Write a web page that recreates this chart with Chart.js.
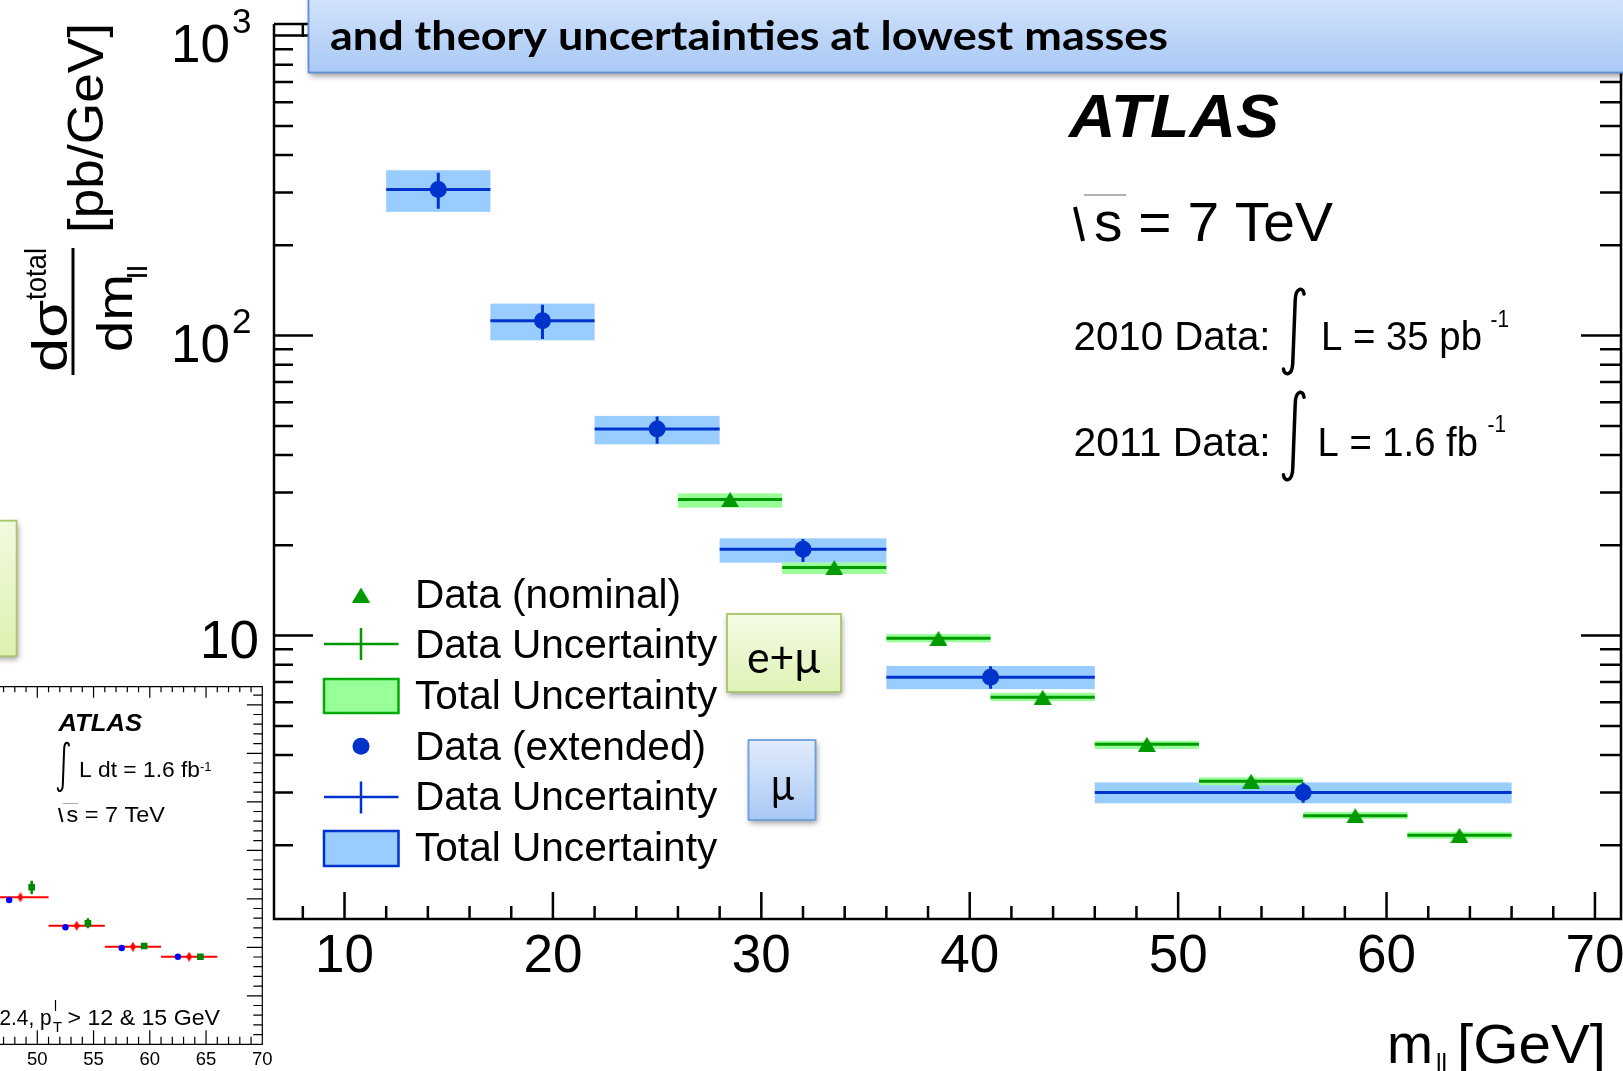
<!DOCTYPE html>
<html>
<head>
<meta charset="utf-8">
<script src="https://cdn.jsdelivr.net/npm/chart.js@4.4.1/dist/chart.umd.min.js"></script>
<style>
  html, body { margin: 0; padding: 0; background: #fff; overflow: hidden; }
  #wrap { position: relative; width: 1623px; height: 1071px; overflow: hidden; background: #fff; }
  #main { position: absolute; left: 0; top: 0; }
  #inset { position: absolute; left: -200px; top: 670px; }
</style>
</head>
<body>
<div id="wrap">
  <canvas id="main" width="1623" height="1071"></canvas>
  <canvas id="inset" width="480" height="401"></canvas>
</div>
<script>
// e+mu combined (nominal) bins, pb/GeV
const emuLow = [26, 31, 36, 41, 46, 51, 56, 61];
const emuHigh = [31, 36, 41, 46, 51, 56, 61, 66];
const emuValue = [28.4, 16.85, 9.79, 6.23, 4.34, 3.27, 2.51, 2.16];
const emuStat = [0.25, 0.15, 0.09, 0.06, 0.04, 0.03, 0.025, 0.02];
const emuTotLow = [26.7, 16.05, 9.50, 6.05, 4.19, 3.17, 2.45, 2.10];
const emuTotHigh = [29.8, 17.5, 10.12, 6.45, 4.46, 3.37, 2.585, 2.22];

// muon only (extended) bins
const muLow = [12, 17, 22, 28, 36, 46];
const muHigh = [17, 22, 28, 36, 46, 66];
const muValue = [306.8, 112.1, 48.8, 19.41, 7.26, 3.0];
const muDataLow = [264.5, 97.4, 43.6, 17.6, 6.65, 2.77];
const muDataHigh = [348.8, 126.8, 53.7, 21.0, 7.9, 3.23];
const muTotLow = [258.5, 96.4, 43.4, 17.5, 6.63, 2.76];
const muTotHigh = [355.8, 127.8, 54.0, 21.1, 7.92, 3.24];

const xTicks = [10, 20, 30, 40, 50, 60, 70];
const yTicks = [10, 100, 1000];

// small fiducial plot on the left
const insetLow = [46, 51, 56, 61];
const insetHigh = [51, 56, 61, 66];
const insetBlue = [2.975, 2.412, 1.986, 1.806];
const insetRed = [3.031, 2.445, 2.012, 1.806];
const insetGreen = [3.237, 2.495, 2.027, 1.806];
const insetGreenErr = [0.137, 0.103, 0.06, 0.03];
const insetTicks = [50, 55, 60, 65, 70];

const HELV = "'Liberation Sans', Arial, sans-serif";
const CALI = "Lato, 'Open Sans', sans-serif";

const BLUE = '#0033cc', BLUE_BAND = '#99ccff';
const GREEN = '#009900', GREEN_BAND = '#99ff99';

function markerCanvas(w, h, color, shape) {
  const c = document.createElement('canvas');
  c.width = w; c.height = h;
  const g = c.getContext('2d');
  g.fillStyle = color;
  g.beginPath();
  if (shape === 'tri') {
    g.moveTo(w / 2, 0); g.lineTo(w, h); g.lineTo(0, h);
  } else {
    g.moveTo(w / 2, 0); g.lineTo(w, h / 2); g.lineTo(w / 2, h); g.lineTo(0, h / 2);
  }
  g.closePath();
  g.fill();
  return c;
}
const triMarker = markerCanvas(18, 15, GREEN, 'tri');
const diamondMarker = markerCanvas(6, 10, '#ff0000', 'dia');

// text squeezed/stretched to a given width
function fitText(ctx, str, x, y, font, width) {
  ctx.font = font;
  const w = ctx.measureText(str).width;
  ctx.save();
  ctx.translate(x, y);
  if (width) ctx.scale(width / w, 1);
  ctx.textAlign = 'left';
  ctx.textBaseline = 'alphabetic';
  ctx.fillText(str, 0, 0);
  ctx.restore();
}

// text running bottom-to-top
function rotText(ctx, str, xBase, yStart, font, len) {
  ctx.save();
  ctx.translate(xBase, yStart);
  ctx.rotate(-Math.PI / 2);
  ctx.font = font;
  const w = ctx.measureText(str).width;
  if (len) ctx.scale(len / w, 1);
  ctx.textAlign = 'left';
  ctx.textBaseline = 'alphabetic';
  ctx.fillText(str, 0, 0);
  ctx.restore();
}

function drawIntegral(ctx, x0, y0, x1, y1, lw) {
  const w = x1 - x0, h = y1 - y0;
  ctx.save();
  ctx.strokeStyle = '#000';
  ctx.lineWidth = lw;
  ctx.lineCap = 'round';
  ctx.beginPath();
  ctx.moveTo(x1 - w * 0.08, y0 + h * 0.07);
  ctx.bezierCurveTo(x1 - w * 0.1, y0 - h * 0.01, x0 + w * 0.58, y0 - h * 0.02, x0 + w * 0.56, y0 + h * 0.14);
  ctx.lineTo(x0 + w * 0.46, y1 - h * 0.14);
  ctx.bezierCurveTo(x0 + w * 0.44, y1 + h * 0.02, x0 + w * 0.1, y1 + h * 0.01, x0 + w * 0.08, y1 - h * 0.07);
  ctx.stroke();
  ctx.restore();
}

function slideBox(ctx, x, y, w, h, top, bottom, border) {
  ctx.save();
  ctx.shadowColor = 'rgba(0,0,0,0.4)';
  ctx.shadowBlur = 6;
  ctx.shadowOffsetX = 1;
  ctx.shadowOffsetY = 3;
  const g = ctx.createLinearGradient(0, y, 0, y + h);
  g.addColorStop(0, top);
  g.addColorStop(1, bottom);
  ctx.fillStyle = g;
  ctx.fillRect(x, y, w, h);
  ctx.restore();
  ctx.strokeStyle = border;
  ctx.lineWidth = 1.8;
  ctx.strokeRect(x, y, w, h);
}

// uncertainty boxes and bin-width lines under the markers
const bandsPlugin = {
  id: 'bands',
  beforeDatasetsDraw(chart) {
    const { ctx, chartArea: a, scales: { x, y } } = chart;
    ctx.save();
    ctx.beginPath();
    ctx.rect(a.left, a.top, a.right - a.left, a.bottom - a.top);
    ctx.clip();

    ctx.fillStyle = BLUE_BAND;
    muLow.forEach((lo, i) => {
      const x0 = x.getPixelForValue(lo), x1 = x.getPixelForValue(muHigh[i]);
      const y0 = y.getPixelForValue(muTotHigh[i]), y1 = y.getPixelForValue(muTotLow[i]);
      ctx.fillRect(x0, y0, x1 - x0, y1 - y0);
    });
    ctx.fillStyle = GREEN_BAND;
    emuLow.forEach((lo, i) => {
      const x0 = x.getPixelForValue(lo), x1 = x.getPixelForValue(emuHigh[i]);
      const y0 = y.getPixelForValue(emuTotHigh[i]), y1 = y.getPixelForValue(emuTotLow[i]);
      ctx.fillRect(x0, y0, x1 - x0, y1 - y0);
    });

    ctx.lineWidth = 3;
    ctx.strokeStyle = BLUE;
    muLow.forEach((lo, i) => {
      const xc = x.getPixelForValue((lo + muHigh[i]) / 2);
      const yv = y.getPixelForValue(muValue[i]);
      ctx.beginPath();
      ctx.moveTo(x.getPixelForValue(lo), yv);
      ctx.lineTo(x.getPixelForValue(muHigh[i]), yv);
      ctx.moveTo(xc, y.getPixelForValue(muDataHigh[i]));
      ctx.lineTo(xc, y.getPixelForValue(muDataLow[i]));
      ctx.stroke();
    });
    ctx.strokeStyle = GREEN;
    emuLow.forEach((lo, i) => {
      const xc = x.getPixelForValue((lo + emuHigh[i]) / 2);
      const yv = y.getPixelForValue(emuValue[i]);
      ctx.beginPath();
      ctx.moveTo(x.getPixelForValue(lo), yv);
      ctx.lineTo(x.getPixelForValue(emuHigh[i]), yv);
      ctx.moveTo(xc, y.getPixelForValue(emuValue[i] + emuStat[i]));
      ctx.lineTo(xc, y.getPixelForValue(emuValue[i] - emuStat[i]));
      ctx.stroke();
    });
    ctx.restore();
  }
};

// axes with inward ticks, labels and the slide decorations
const framePlugin = {
  id: 'frame',
  afterDraw(chart) {
    const { ctx, chartArea: a, scales: { x, y } } = chart;
    ctx.save();
    ctx.strokeStyle = '#000';
    ctx.fillStyle = '#000';
    ctx.lineWidth = 2.5;

    // frame
    ctx.beginPath();
    ctx.moveTo(a.left, a.top); ctx.lineTo(a.left, a.bottom);
    ctx.lineTo(a.right, a.bottom); ctx.lineTo(a.right, a.top);
    ctx.lineTo(a.left, a.top);
    ctx.stroke();

    // x ticks
    ctx.beginPath();
    for (let v = 8; v <= 70; v += 2) {
      const px = x.getPixelForValue(v);
      const len = v % 10 === 0 ? 27 : 13;
      ctx.moveTo(px, a.bottom); ctx.lineTo(px, a.bottom - len);
      ctx.moveTo(px, a.top); ctx.lineTo(px, a.top + len);
    }
    // y ticks
    for (const d of [1, 10, 100]) {
      for (let m = 1; m <= 9; m++) {
        const v = m * d;
        if (v < y.min || v > y.max) continue;
        const py = y.getPixelForValue(v);
        const major = m === 1;
        ctx.moveTo(a.left, py); ctx.lineTo(a.left + (major ? 39 : 19), py);
        ctx.moveTo(a.right, py); ctx.lineTo(a.right - (major ? 40 : 21), py);
      }
    }
    if (y.max >= 1000) {
      const py = y.getPixelForValue(1000);
      ctx.moveTo(a.left, py); ctx.lineTo(a.left + 39, py);
      ctx.moveTo(a.right, py); ctx.lineTo(a.right - 40, py);
    }
    ctx.stroke();

    // x tick labels
    ctx.font = '53px ' + HELV;
    ctx.textAlign = 'center';
    ctx.textBaseline = 'alphabetic';
    xTicks.forEach(v => ctx.fillText(String(v), x.getPixelForValue(v), 971.5));

    // y tick labels
    yTicks.forEach(v => {
      const py = y.getPixelForValue(v);
      const exp = Math.round(Math.log10(v));
      ctx.font = '53px ' + HELV;
      ctx.textAlign = 'right';
      if (exp === 1) {
        ctx.fillText('10', 259, py + 22.5);
      } else {
        ctx.fillText('10', 230, py + 26.5);
        ctx.font = '35px ' + HELV;
        ctx.textAlign = 'left';
        ctx.fillText(String(exp), 232, py - 2.5);
      }
    });

    // x axis title
    ctx.textAlign = 'left';
    fitText(ctx, 'm', 1387, 1063, '55px ' + HELV, 46);
    fitText(ctx, 'll', 1436, 1075, '30px ' + HELV, 11);
    fitText(ctx, '[GeV]', 1457, 1063, '55px ' + HELV, 149);

    // y axis title
    rotText(ctx, '[pb/GeV]', 103, 233, '50px ' + HELV, 210);
    rotText(ctx, 'd\u03c3', 67, 372, '50px ' + HELV, 72);
    rotText(ctx, 'total', 46, 300, '30px ' + HELV, 52);
    ctx.fillRect(71.5, 248, 3, 127);
    rotText(ctx, 'dm', 132, 352, '50px ' + HELV, 78);
    rotText(ctx, 'll', 147, 279, '28px ' + HELV, 14);

    // ATLAS label block
    fitText(ctx, 'ATLAS', 1069, 137, 'italic bold 62px ' + HELV, 210);
    ctx.lineWidth = 4;
    ctx.beginPath(); ctx.moveTo(1075, 207); ctx.lineTo(1083, 241); ctx.stroke();
    ctx.strokeStyle = '#999'; ctx.lineWidth = 1.5;
    ctx.beginPath(); ctx.moveTo(1084, 195); ctx.lineTo(1126, 195); ctx.stroke();
    ctx.strokeStyle = '#000';
    fitText(ctx, 's = 7 TeV', 1094, 241, '55px ' + HELV, 239);

    fitText(ctx, '2010 Data:', 1073.5, 350, '40px ' + HELV, 197);
    drawIntegral(ctx, 1281.5, 288, 1306, 375, 3.5);
    fitText(ctx, 'L = 35 pb', 1321, 350, '40px ' + HELV, 161);
    fitText(ctx, '-1', 1490.5, 327, '24px ' + HELV, 18.5);

    fitText(ctx, '2011 Data:', 1073.5, 455.5, '40px ' + HELV, 197);
    drawIntegral(ctx, 1281.5, 391, 1306, 481, 3.5);
    fitText(ctx, 'L = 1.6 fb', 1317.5, 455.5, '40px ' + HELV, 160.5);
    fitText(ctx, '-1', 1487.5, 432, '24px ' + HELV, 18.5);

    // legend
    const lx = 361;
    ctx.drawImage(triMarker, lx - 9, 595 - 7.5);
    ctx.lineWidth = 2.5;
    ctx.strokeStyle = GREEN;
    ctx.beginPath();
    ctx.moveTo(324, 644); ctx.lineTo(398.5, 644);
    ctx.moveTo(lx, 628); ctx.lineTo(lx, 660);
    ctx.stroke();
    ctx.fillStyle = GREEN_BAND;
    ctx.fillRect(324, 679, 74.5, 34);
    ctx.strokeStyle = '#00aa00';
    ctx.strokeRect(324, 679, 74.5, 34);
    ctx.fillStyle = BLUE;
    ctx.beginPath(); ctx.arc(lx, 746.3, 8.5, 0, Math.PI * 2); ctx.fill();
    ctx.strokeStyle = BLUE;
    ctx.beginPath();
    ctx.moveTo(324, 797); ctx.lineTo(398.5, 797);
    ctx.moveTo(lx, 781.5); ctx.lineTo(lx, 813.5);
    ctx.stroke();
    ctx.fillStyle = BLUE_BAND;
    ctx.fillRect(324, 831, 74.5, 35);
    ctx.strokeStyle = BLUE;
    ctx.strokeRect(324, 831, 74.5, 35);

    ctx.fillStyle = '#000';
    const legendRows = ['Data (nominal)', 'Data Uncertainty', 'Total Uncertainty',
      'Data (extended)', 'Data Uncertainty', 'Total Uncertainty'];
    legendRows.forEach((t, i) => fitText(ctx, t, 415, 607.6 + i * 50.7, '40.6px ' + HELV));

    // channel tags
    slideBox(ctx, 727, 614, 114, 78, '#f4fbe6', '#dff3b4', '#a8c46c');
    slideBox(ctx, 748.5, 740, 67, 80, '#e2ecfc', '#a8c8f4', '#6e9fdb');
    slideBox(ctx, -10, 520.7, 26.6, 135.5, '#f2fae0', '#ddf2b0', '#a8c46c');
    ctx.fillStyle = '#000';
    fitText(ctx, 'e+\u03bc', 747, 673, '44px ' + CALI, 73);
    fitText(ctx, '\u03bc', 771, 800, '44px ' + CALI, 23);

    // title banner
    slideBox(ctx, 308.5, -20, 1400, 92.5, '#dce8fc', '#a9c9f5', '#5f90d2');
    ctx.fillStyle = '#000';
    fitText(ctx, 'and theory uncertainties at lowest masses', 330, 50, 'bold 41px ' + CALI, 838);

    ctx.restore();
  }
};

new Chart(document.getElementById('main'), {
  type: 'scatter',
  data: {
    datasets: [
      {
        label: 'Data (extended)',
        data: muValue.map((v, i) => ({ x: (muLow[i] + muHigh[i]) / 2, y: v })),
        pointStyle: 'circle',
        pointRadius: 8.5,
        backgroundColor: BLUE,
        borderWidth: 0
      },
      {
        label: 'Data (nominal)',
        data: emuValue.map((v, i) => ({ x: (emuLow[i] + emuHigh[i]) / 2, y: v })),
        pointStyle: triMarker,
        backgroundColor: GREEN,
        borderWidth: 0
      }
    ]
  },
  options: {
    responsive: false,
    animation: false,
    layout: { autoPadding: false, padding: { left: 274, right: 2, top: 24, bottom: 152 } },
    plugins: { legend: { display: false }, tooltip: { enabled: false } },
    scales: {
      x: { type: 'linear', min: 6.617, max: 71.25, display: false },
      y: { type: 'logarithmic', min: 1.136, max: 1093, display: false }
    }
  },
  plugins: [bandsPlugin, framePlugin]
});

// inset canvas sits at page offset (-200, 670)
const OX = -200, OY = 670;

const insetFrame = {
  id: 'insetFrame',
  beforeDatasetsDraw(chart) {
    const { ctx, scales: { x, y } } = chart;
    ctx.save();
    ctx.strokeStyle = '#ff0000';
    ctx.lineWidth = 2;
    ctx.beginPath();
    insetLow.forEach((lo, i) => {
      const yv = y.getPixelForValue(insetRed[i]);
      ctx.moveTo(x.getPixelForValue(lo), yv);
      ctx.lineTo(x.getPixelForValue(insetHigh[i]), yv);
    });
    ctx.stroke();
    ctx.strokeStyle = '#008800';
    ctx.lineWidth = 2.5;
    ctx.beginPath();
    insetLow.forEach((lo, i) => {
      const xc = x.getPixelForValue(lo + 3.5);
      ctx.moveTo(xc, y.getPixelForValue(insetGreen[i] + insetGreenErr[i]));
      ctx.lineTo(xc, y.getPixelForValue(insetGreen[i] - insetGreenErr[i]));
    });
    ctx.stroke();
    ctx.restore();
  },
  afterDraw(chart) {
    const { ctx, chartArea: a, scales: { x, y } } = chart;
    ctx.save();
    ctx.strokeStyle = '#000';
    ctx.lineWidth = 1.2;
    ctx.beginPath();
    ctx.moveTo(a.left, a.top); ctx.lineTo(a.right, a.top);
    ctx.lineTo(a.right, a.bottom); ctx.lineTo(a.left, a.bottom);
    for (let v = 33; v <= 70; v++) {
      const px = x.getPixelForValue(v);
      const major = v % 5 === 0;
      ctx.moveTo(px, a.top); ctx.lineTo(px, a.top + (major ? 11 : 5.5));
      ctx.moveTo(px, a.bottom); ctx.lineTo(px, a.bottom - (major ? 14 : 7.5));
    }
    for (let k = 0; k <= 36; k++) {
      const v = k * 0.2;
      const py = y.getPixelForValue(v);
      const major = k % 5 === 0;
      ctx.moveTo(a.right, py); ctx.lineTo(a.right - (major ? 15.5 : 9), py);
    }
    ctx.stroke();

    ctx.fillStyle = '#000';
    ctx.font = '18.5px ' + HELV;
    ctx.textAlign = 'center';
    insetTicks.forEach(v => ctx.fillText(String(v), x.getPixelForValue(v), 1065 - OY));

    ctx.translate(-OX, -OY);
    fitText(ctx, 'ATLAS', 58.5, 730.7, 'italic bold 24px ' + HELV, 83.5);
    drawIntegral(ctx, 56.7, 742, 70, 791.7, 2);
    fitText(ctx, 'L dt = 1.6 fb', 79, 776.7, '22px ' + HELV, 121);
    fitText(ctx, '-1', 200, 771, '13px ' + HELV, 11.5);
    ctx.lineWidth = 2;
    ctx.beginPath(); ctx.moveTo(59, 808); ctx.lineTo(62.5, 822); ctx.stroke();
    ctx.strokeStyle = '#aaa'; ctx.lineWidth = 1;
    ctx.beginPath(); ctx.moveTo(63, 803.5); ctx.lineTo(78, 803.5); ctx.stroke();
    fitText(ctx, 's = 7 TeV', 66.5, 821.7, '22px ' + HELV, 98.5);
    fitText(ctx, '2.4, p', -0.5, 1025, '22px ' + HELV, 52);
    fitText(ctx, 'T', 53, 1032, '14px ' + HELV, 9);
    fitText(ctx, 'l', 54, 1011, '14px ' + HELV, 3);
    fitText(ctx, '> 12 & 15 GeV', 67.5, 1025, '22px ' + HELV, 152.5);
    ctx.restore();
  }
};

new Chart(document.getElementById('inset'), {
  type: 'scatter',
  data: {
    datasets: [
      {
        data: insetBlue.map((v, i) => ({ x: insetLow[i] + 1.5, y: v })),
        pointStyle: 'circle', pointRadius: 3.2, backgroundColor: '#0000ff', borderWidth: 0
      },
      {
        data: insetRed.map((v, i) => ({ x: insetLow[i] + 2.5, y: v })),
        pointStyle: diamondMarker, backgroundColor: '#ff0000', borderWidth: 0
      },
      {
        data: insetGreen.map((v, i) => ({ x: insetLow[i] + 3.5, y: v })),
        pointStyle: 'rect', pointRadius: 4.7, backgroundColor: '#008800', borderWidth: 0
      }
    ]
  },
  options: {
    responsive: false,
    animation: false,
    layout: { autoPadding: false, padding: { left: 34.8, right: 17.7, top: 16.7, bottom: 26.7 } },
    plugins: { legend: { display: false }, tooltip: { enabled: false } },
    scales: {
      x: { type: 'linear', min: 32, max: 70, display: false },
      y: { type: 'linear', min: 0, max: 7.373, display: false }
    }
  },
  plugins: [insetFrame]
});
</script>
</body>
</html>
